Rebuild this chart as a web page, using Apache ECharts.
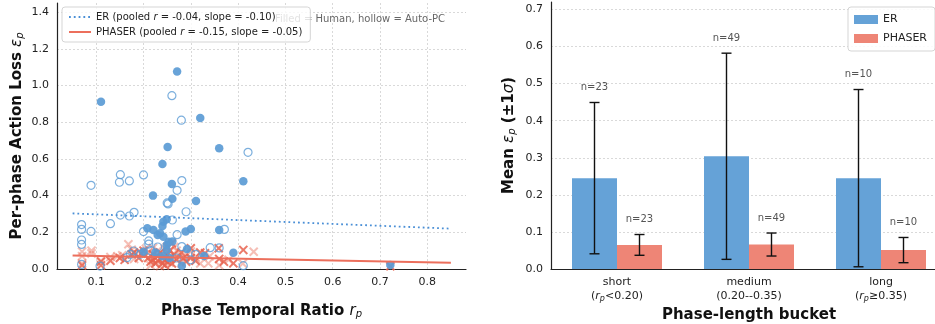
<!DOCTYPE html>
<html><head><meta charset="utf-8">
<script src="https://cdn.jsdelivr.net/npm/echarts@6/dist/echarts.min.js"></script>
<style>html,body{margin:0;padding:0;background:#fff}#c{width:935px;height:324px}</style>
</head><body><div id="c"></div>
<script>
// ---------- Left panel: per-phase scatter ----------
const erHuman = [[0.110,0.912],[0.271,1.076],[0.320,0.823],[0.251,0.665],[0.360,0.658],[0.240,0.572],[0.260,0.463],[0.411,0.478],[0.220,0.400],[0.261,0.383],[0.311,0.371],[0.242,0.258],[0.240,0.234],[0.249,0.271],[0.208,0.222],[0.221,0.213],[0.289,0.205],[0.300,0.218],[0.360,0.213],[0.249,0.131],[0.261,0.150],[0.292,0.109],[0.390,0.089],[0.328,0.071],[0.281,0.018],[0.722,0.022],[0.200,0.094],[0.235,0.195],[0.242,0.176],[0.253,0.149],[0.249,0.104],[0.230,0.185],[0.225,0.090],[0.255,0.060],[0.240,0.070]];
const erAuto = [[0.260,0.945],[0.280,0.811],[0.421,0.636],[0.151,0.514],[0.149,0.473],[0.170,0.480],[0.200,0.513],[0.089,0.456],[0.281,0.482],[0.271,0.429],[0.250,0.360],[0.252,0.355],[0.290,0.312],[0.151,0.294],[0.170,0.289],[0.180,0.309],[0.130,0.247],[0.069,0.242],[0.069,0.216],[0.089,0.205],[0.261,0.267],[0.200,0.204],[0.271,0.187],[0.371,0.216],[0.069,0.158],[0.069,0.134],[0.211,0.153],[0.211,0.136],[0.281,0.122],[0.341,0.116],[0.360,0.115],[0.069,0.025],[0.108,0.016],[0.411,0.018],[0.172,0.080],[0.179,0.098],[0.165,0.062],[0.193,0.080],[0.215,0.100],[0.270,0.060],[0.300,0.050],[0.230,0.120],[0.310,0.080]];
const phHuman = [[0.070,0.020],[0.110,0.040],[0.110,0.020],[0.150,0.060],[0.160,0.050],[0.175,0.080],[0.180,0.090],[0.190,0.060],[0.195,0.085],[0.130,0.045],
 [0.200,0.100],[0.210,0.060],[0.215,0.040],[0.220,0.080],[0.220,0.050],[0.225,0.030],[0.230,0.070],[0.230,0.045],[0.235,0.090],[0.240,0.060],[0.240,0.030],[0.245,0.050],[0.245,0.020],[0.250,0.120],[0.250,0.075],[0.250,0.040],[0.255,0.100],[0.255,0.060],[0.260,0.030],[0.260,0.140],[0.265,0.080],[0.270,0.050],[0.280,0.090],[0.285,0.060],[0.290,0.040],[0.300,0.113],[0.300,0.060],[0.310,0.045],[0.320,0.090],[0.330,0.086],
 [0.359,0.113],[0.360,0.055],[0.390,0.031],[0.411,0.104],[0.722,0.015],[0.370,0.040]];
const phAuto = [[0.070,0.095],[0.070,0.070],[0.070,0.030],[0.090,0.100],[0.090,0.085],[0.110,0.045],[0.130,0.065],[0.145,0.070],[0.155,0.075],[0.168,0.135],[0.175,0.105],[0.180,0.055],[0.190,0.095],
 [0.205,0.110],[0.210,0.090],[0.215,0.020],[0.220,0.115],[0.230,0.100],[0.235,0.015],[0.240,0.080],[0.245,0.110],[0.255,0.035],[0.265,0.120],[0.270,0.100],[0.275,0.070],[0.280,0.030],[0.290,0.080],[0.300,0.095],[0.310,0.065],[0.320,0.030],[0.337,0.031],[0.340,0.070],
 [0.433,0.094],[0.360,0.020],[0.380,0.050],[0.410,0.030]];
const erFit = [[0.05,0.303],[0.85,0.220]];
const phFit = [[0.05,0.073],[0.85,0.034]];
const xTicks = [0.1,0.2,0.3,0.4,0.5,0.6,0.7,0.8];
const yTicksL = [0,0.2,0.4,0.6,0.8,1.0,1.2,1.4];
const legendNames = ['ER (pooled r = -0.04, slope = -0.10)','PHASER (pooled r = -0.15, slope = -0.05)'];

// ---------- Right panel: bucket means ----------
const buckets = ['short', 'medium', 'long'];
const bucketSub = ['({i|r}{s|p}<0.20)', '(0.20--0.35)', '({i|r}{s|p}≥0.35)'];
const erMean = [0.245, 0.304, 0.245];
const erSd   = [0.204, 0.278, 0.239];
const phMean = [0.065, 0.066, 0.051];
const phSd   = [0.028, 0.031, 0.034];
const nCount = [23, 49, 10];
const yTicksR = [0,0.1,0.2,0.3,0.4,0.5,0.6,0.7];

const BLUE = '#5b9bd5', RED = '#e8634f';
const BAR_BLUE = '#65a2d7', BAR_RED = '#ee8576';
const FONT = 'DejaVu Sans';
const XPATH = 'path://M0,1.5L1.5,0L5,3.5L8.5,0L10,1.5L6.5,5L10,8.5L8.5,10L5,6.5L1.5,10L0,8.5L3.5,5Z';
const gridLine = {show:true, lineStyle:{color:'#d0d0d0', type:[2,2], width:0.8}};

function errSeries(mean, sd, off) {
  return {
    type:'custom', xAxisIndex:1, yAxisIndex:1, z:5,
    data: buckets.map((b,i)=>[i, mean[i], sd[i], nCount[i]]),
    encode:{x:0, y:1},
    renderItem:function(params, api){
      const i = api.value(0), m = api.value(1), s = api.value(2), n = api.value(3);
      const top = api.coord([i, m + s]);
      const bot = api.coord([i, m - s]);
      const x = top[0] + off;
      const cap = 5;
      const st = {stroke:'#111', lineWidth:1.4};
      return {type:'group', children:[
        {type:'line', shape:{x1:x, y1:top[1], x2:x, y2:bot[1]}, style:st},
        {type:'line', shape:{x1:x-cap, y1:top[1], x2:x+cap, y2:top[1]}, style:st},
        {type:'line', shape:{x1:x-cap, y1:bot[1], x2:x+cap, y2:bot[1]}, style:st},
        {type:'text', x:x, y:top[1]-15, style:{text:'n=' + n, fill:'#555', font:'10px "DejaVu Sans"', align:'center', verticalAlign:'middle'}}
      ]};
    }
  };
}

const chart = echarts.init(document.getElementById('c'), null, {renderer:'canvas'});
chart.setOption({
  animation:false,
  textStyle:{fontFamily:FONT},
  grid:[
    {left:57, top:3, width:409, height:266, outerBoundsMode:'none', containLabel:false},
    {left:551, top:2, width:396, height:267, outerBoundsMode:'none', containLabel:false}
  ],
  xAxis:[
    {type:'value', gridIndex:0, min:0.017, max:0.882,
     axisLine:{show:true, onZero:false, lineStyle:{color:'#222', width:1.2}},
     axisTick:{show:false, customValues:xTicks},
     axisLabel:{customValues:xTicks, color:'#222', fontSize:11, margin:8, formatter:v=>v.toFixed(1)},
     splitLine:gridLine,
     name:'{b|Phase Temporal Ratio }{i|r}{s|p}', nameLocation:'middle', nameGap:34,
     nameTextStyle:{rich:{b:{fontSize:15, fontWeight:'bold', color:'#111'}, i:{fontSize:15, fontStyle:'italic', color:'#111'}, s:{fontSize:10, fontStyle:'italic', color:'#111', verticalAlign:'bottom', padding:[6,0,0,0]}}}
    },
    {type:'category', gridIndex:1, data:buckets,
     axisLine:{show:true, lineStyle:{color:'#222', width:1.2}},
     axisTick:{show:false},
     axisLabel:{color:'#222', fontSize:11, margin:6, lineHeight:14, interval:0,
       formatter:(v,i)=> v + '\n' + bucketSub[i],
       rich:{i:{fontSize:11, fontStyle:'italic', color:'#222', lineHeight:14}, s:{fontSize:8, fontStyle:'italic', color:'#222', verticalAlign:'bottom', lineHeight:14, padding:[4,0,0,0]}}},
     splitLine:{show:false},
     name:'Phase-length bucket', nameLocation:'middle', nameGap:32,
     nameTextStyle:{fontSize:15, fontWeight:'bold', color:'#111'}
    }
  ],
  yAxis:[
    {type:'value', gridIndex:0, min:0, max:1.45,
     axisLine:{show:true, lineStyle:{color:'#222', width:1.2}},
     axisTick:{show:false, customValues:yTicksL},
     axisLabel:{customValues:yTicksL, color:'#222', fontSize:11, margin:8, formatter:v=>v.toFixed(1)},
     splitLine:gridLine,
     name:'{b|Per-phase Action Loss }{i|ε}{s|p}', nameLocation:'middle', nameGap:32, nameRotate:90,
     nameTextStyle:{rich:{b:{fontSize:15, fontWeight:'bold', color:'#111'}, i:{fontSize:15, fontStyle:'italic', color:'#111'}, s:{fontSize:10, fontStyle:'italic', color:'#111', verticalAlign:'bottom', padding:[6,0,0,0]}}}
    },
    {type:'value', gridIndex:1, min:0, max:0.72,
     axisLine:{show:true, lineStyle:{color:'#222', width:1.2}},
     axisTick:{show:false, customValues:yTicksR},
     axisLabel:{customValues:yTicksR, color:'#222', fontSize:11, margin:8, formatter:v=>v.toFixed(1)},
     splitLine:gridLine,
     name:'{b|Mean }{i|ε}{s|p}{b| (±1}{i|σ}{b|)}', nameLocation:'middle', nameGap:34, nameRotate:90,
     nameTextStyle:{rich:{b:{fontSize:15, fontWeight:'bold', color:'#111'}, i:{fontSize:15, fontStyle:'italic', color:'#111'}, s:{fontSize:10, fontStyle:'italic', color:'#111', verticalAlign:'bottom', padding:[6,0,0,0]}}}
    }
  ],
  legend:[
    {z:10, left:62, top:7, orient:'vertical', itemWidth:22, itemHeight:8, itemGap:5,
     padding:[5,8,5,6], backgroundColor:'rgba(255,255,255,0.82)', borderColor:'#d5d5d5', borderWidth:1, borderRadius:3,
     data:legendNames,
     itemStyle:{opacity:0},
     formatter:function(name){
       const parts = name.split(' r = ');
       return parts[0] + ' {i|r} = ' + parts[1];
     },
     textStyle:{fontSize:10, color:'#222', rich:{i:{fontSize:10, fontStyle:'italic', color:'#222'}}}
    },
    {z:10, left:848, top:7, orient:'vertical', itemWidth:24, itemHeight:9, itemGap:8,
     padding:[7,8,7,6], backgroundColor:'rgba(255,255,255,0.85)', borderColor:'#d5d5d5', borderWidth:1, borderRadius:3,
     data:['ER','PHASER'], icon:'rect',
     textStyle:{fontSize:11, color:'#222'}
    }
  ],
  graphic:[
    {type:'text', z:1, right:935-445, top:14, style:{text:'Filled = Human, hollow = Auto-PC', fill:'#666', font:'10px "DejaVu Sans"', align:'right'}}
  ],
  series:[
    {type:'scatter', xAxisIndex:0, yAxisIndex:0, name:'phAuto', data:phAuto, symbol:XPATH, symbolSize:9.5, itemStyle:{color:RED, opacity:0.42}, z:2},
    {type:'scatter', xAxisIndex:0, yAxisIndex:0, name:'phHuman', data:phHuman, symbol:XPATH, symbolSize:9.5, itemStyle:{color:RED, opacity:0.85}, z:2},
    {type:'scatter', xAxisIndex:0, yAxisIndex:0, name:'erAuto', data:erAuto, symbol:'circle', symbolSize:8, itemStyle:{color:'rgba(255,255,255,0)', borderColor:BLUE, borderWidth:1.2}, z:3},
    {type:'scatter', xAxisIndex:0, yAxisIndex:0, name:'erHuman', data:erHuman, symbol:'circle', symbolSize:8.5, itemStyle:{color:BLUE, opacity:0.92}, z:3},
    {type:'line', xAxisIndex:0, yAxisIndex:0, name:legendNames[0], data:erFit, symbol:'none', lineStyle:{color:'#4a8fd6', width:1.8, type:[1.8,3]}, itemStyle:{color:'#4a8fd6'}, z:4},
    {type:'line', xAxisIndex:0, yAxisIndex:0, name:legendNames[1], data:phFit, symbol:'none', lineStyle:{color:'#ec6f5c', width:2}, itemStyle:{color:'#ec6f5c'}, z:4},
    {type:'bar', xAxisIndex:1, yAxisIndex:1, name:'ER', data:erMean, barWidth:45, barGap:'0%', itemStyle:{color:BAR_BLUE}},
    {type:'bar', xAxisIndex:1, yAxisIndex:1, name:'PHASER', data:phMean, barWidth:45, barGap:'0%', itemStyle:{color:BAR_RED}},
    errSeries(erMean, erSd, -22.5),
    errSeries(phMean, phSd, 22.5)
  ]
});
</script></body></html>
